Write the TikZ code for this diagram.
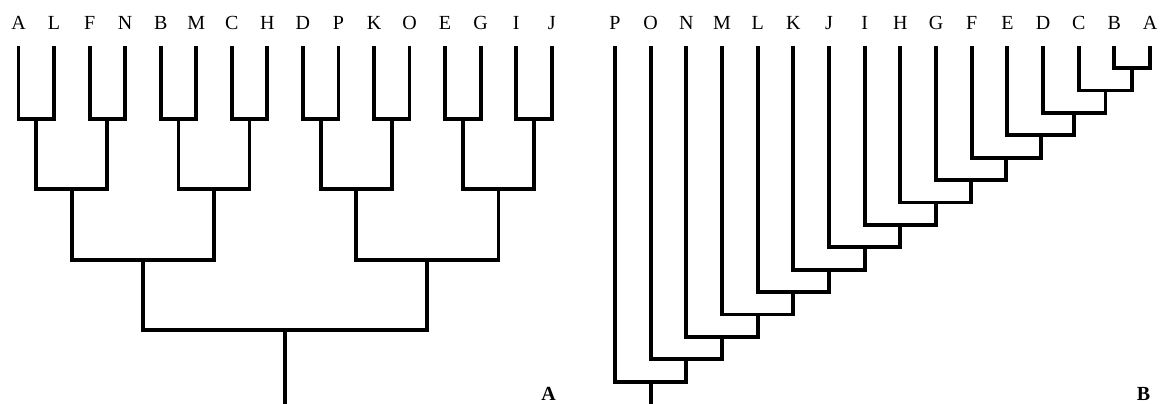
\documentclass[tikz,border=0pt]{standalone}
\usepackage{fontspec}
\setmainfont{Liberation Serif}
\usetikzlibrary{calc}
\tikzset{
  br/.style={line width=3.8pt, line join=miter, black},
  lab/.style={font=\fontsize{20}{24}\selectfont, anchor=base, inner sep=0pt},
  tag/.style={font=\fontsize{20}{24}\selectfont\bfseries, anchor=base, inner sep=0pt}
}
\begin{document}
\begin{tikzpicture}[x=1pt,y=-1pt]
\useasboundingbox (0,0) rectangle (1172,404);
% ---------- Tree A ----------
\foreach \n [count=\i from 0] in {A,L,F,N,B,M,C,H,D,P,K,O,E,G,I,J} {
  \node[lab] (ta\i) at ({18.5+35.55*\i},30) {\n};
  \coordinate (a0-\i) at ({18.5+35.55*\i},46.5);
}
\foreach \L/\yy/\ks in {1/119/{0,1,2,3,4,5,6,7}, 2/189/{0,1,2,3}, 3/260/{0,1}, 4/330/{0}} {
  \foreach \k in \ks {
    \pgfmathsetmacro\xx{18.5+35.55*(\k*2^\L + (2^\L-1)/2)}
    \pgfmathtruncatemacro\pl{\L-1}
    \pgfmathtruncatemacro\lc{2*\k}
    \pgfmathtruncatemacro\rc{2*\k+1}
    \coordinate (a\L-\k) at (\xx,\yy);
    \draw[br] (a\pl-\lc) |- (a\L-\k) -| (a\pl-\rc);
  }
}
\coordinate (aend) at ($(a4-0)+(0,76)$);
\draw[br] (a4-0) -- (aend);
\node[tag] (labA) at (548.5,400) {A};
% ---------- Tree B ----------
\foreach \n [count=\i from 0] in {P,O,N,M,L,K,J,I,H,G,F,E,D,C,B,A} {
  \node[lab] (tb\i) at ({615+35.67*\i},30) {\n};
  \coordinate (b\i) at ({615+35.67*\i},46.5);
}
\coordinate (m0) at ($(b14)!0.5!(b15)$);
\coordinate (n0) at (m0 |- 0,68);
\draw[br] (b14) |- (n0) -| (b15);
\foreach \k in {1,...,14} {
  \pgfmathtruncatemacro\j{14-\k}
  \pgfmathtruncatemacro\km{\k-1}
  \pgfmathsetmacro\yy{68+22.4*\k}
  \coordinate (m\k) at ($(b\j)!0.5!(n\km)$);
  \coordinate (n\k) at (m\k |- 0,\yy);
  \draw[br] (b\j) |- (n\k) -| (n\km);
}
\coordinate (bend) at ($(n14)+(0,30)$);
\draw[br] (n14) -- (bend);
\node[tag] (labB) at (1143.5,400) {B};
\end{tikzpicture}
\end{document}
